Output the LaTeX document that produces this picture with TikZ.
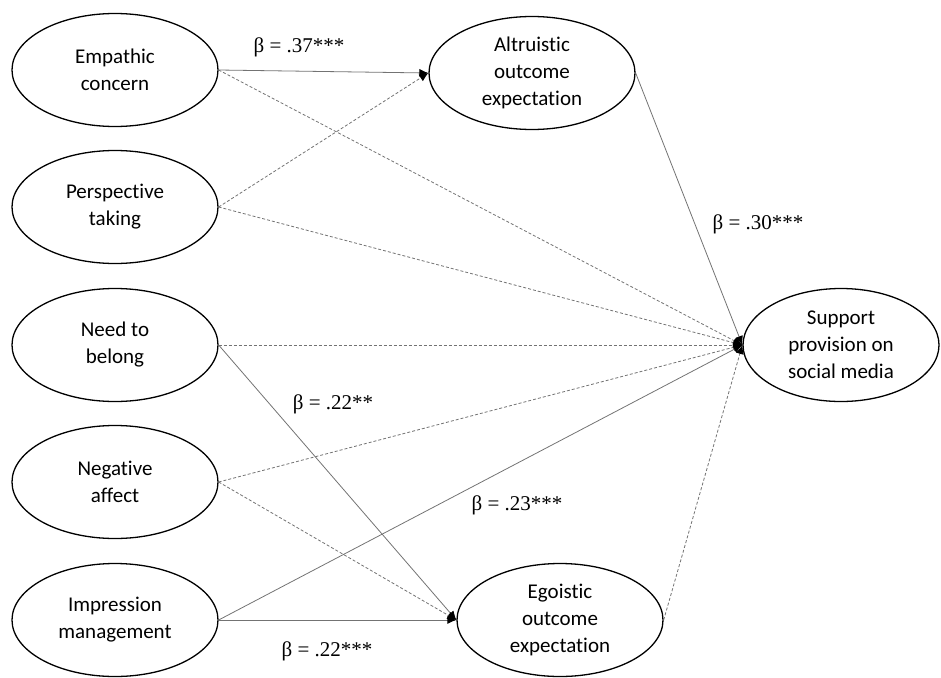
\documentclass[tikz,border=0pt]{standalone}
\usepackage{fontspec}
\setmainfont{Carlito}[Ligatures=NoCommon]
\newfontfamily\coeffont{Liberation Serif}
\usepackage{tikz}
\usetikzlibrary{shapes, arrows.meta, positioning, calc}

\begin{document}
\begin{tikzpicture}[x=1pt, y=1pt,
  construct/.style={ellipse, draw, line width=1.3pt, minimum width=206pt, minimum height=113pt, align=center, font=\fontsize{21}{27}\selectfont},
  path/.style={draw=black!55, line width=0.8pt, -{Latex[length=9pt,width=8pt,color=black]}},
  nspath/.style={path, dash pattern=on 3pt off 2pt},
  beta/.style={font=\coeffont\fontsize{21}{25}\selectfont}]
\useasboundingbox (0,0) rectangle (941,-677);

% Predictors
\node[construct] (emp) at (115,-70) {Empathic\\concern};
\node[construct] (per) at (115,-207) {Perspective\\taking};
\node[construct] (bel) at (115,-345) {Need to\\belong};
\node[construct] (neg) at (115,-482) {Negative\\affect};
\node[construct] (imp) at (115,-620) {Impression\\management};

% Mediators and outcome
\node[construct] (alt) at (532,-73) {Altruistic\\outcome\\expectation};
\node[construct] (ego) at (560,-620) {Egoistic\\outcome\\expectation};
\node[construct, minimum width=196pt] (sup) at (841,-345) {Support\\provision on\\social media};

% Paths to mediators
\draw[path] (emp.east) -- (alt.west);
\draw[nspath] (per.east) -- (alt.west);
\draw[path] (bel.east) -- (ego.west);
\draw[nspath] (neg.east) -- (ego.west);
\draw[path] (imp.east) -- (ego.west);

% Paths to outcome
\draw[nspath] (emp.east) -- (sup.west);
\draw[nspath] (per.east) -- (sup.west);
\draw[nspath] (bel.east) -- (sup.west);
\draw[nspath] (neg.east) -- (sup.west);
\draw[path] (imp.east) -- (sup.west);
\draw[path] (alt.east) -- (sup.west);
\draw[nspath] (ego.east) -- (sup.west);

% Coefficients
\node[beta] (b1) at (299,-47) {β = .37***};
\node[beta] (b2) at (758,-224) {β = .30***};
\node[beta] (b3) at (333,-404) {β = .22**};
\node[beta] (b4) at (517,-505) {β = .23***};
\node[beta] (b5) at (327,-651) {β = .22***};
\end{tikzpicture}
\end{document}
